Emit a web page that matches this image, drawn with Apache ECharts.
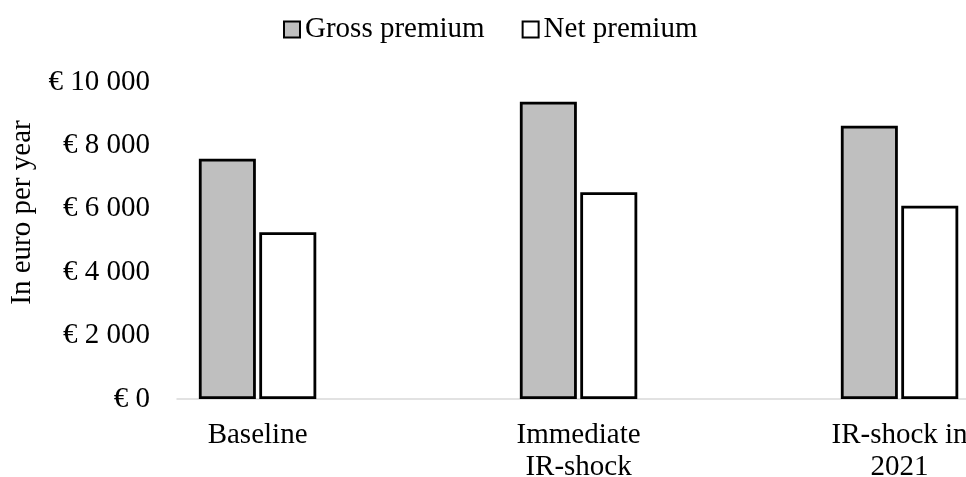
<!DOCTYPE html>
<html>
<head>
<meta charset="utf-8">
<script src="https://cdn.jsdelivr.net/npm/echarts@6/dist/echarts.min.js"></script>
<style>
  html, body { margin: 0; padding: 0; background: #ffffff; }
  #chart { width: 966px; height: 477px; }
</style>
</head>
<body>
<div id="chart"></div>
<script>
// Premium scenarios, in euro per year
const categories = ['Baseline', 'Immediate\nIR-shock', 'IR-shock in\n2021'];
const grossPremium = [7580, 9380, 8620];
const netPremium = [5260, 6520, 6100];
const yTicks = { min: 0, max: 10000, interval: 2000 };

const FONT = '"Liberation Serif", "Times New Roman", serif';
const textBase = { fontFamily: FONT, fontSize: 29, color: '#000000' };

// category slots sit on a numeric x scale; the plot starts part-way into the
// first slot and runs off the right edge past the last one
const SLOT_START = -0.251;
const SLOT_END = 2.207;

function euro(v) {
  return '€ ' + String(v).replace(/\B(?=(\d{3})+(?!\d))/g, ' ');
}

const slotIndex = categories.map((_, i) => i);
const grossData = grossPremium.map((v, i) => [i, v]);
const netData = netPremium.map((v, i) => [i, v]);

const chart = echarts.init(document.getElementById('chart'), null, { renderer: 'canvas' });

chart.setOption({
  backgroundColor: '#ffffff',
  animation: false,
  legend: {
    top: 15,
    left: 283,
    padding: 0,
    itemWidth: 16,
    itemHeight: 16,
    itemGap: 37,
    icon: 'rect',
    textStyle: Object.assign({}, textBase),
    data: ['Gross premium', 'Net premium']
  },
  grid: {
    left: 177, right: 0, top: 82, bottom: 78,
    containLabel: false,
    outerBoundsMode: 'none'
  },
  xAxis: {
    type: 'value',
    min: SLOT_START,
    max: SLOT_END,
    splitLine: { show: false },
    axisLine: { show: true, onZero: false, lineStyle: { color: '#d9d9d9', width: 1.5 } },
    axisTick: { show: false },
    axisLabel: Object.assign({
      margin: 20,
      lineHeight: 32,
      customValues: slotIndex,
      formatter: (v) => categories[Math.round(v)]
    }, textBase)
  },
  yAxis: {
    type: 'value',
    min: yTicks.min, max: yTicks.max, interval: yTicks.interval,
    name: 'In euro per year',
    nameLocation: 'middle',
    nameGap: 140,
    nameRotate: 90,
    nameTextStyle: Object.assign({ padding: [0, 0, 0, 56] }, textBase),
    axisLine: { show: false },
    axisTick: { show: false },
    splitLine: { show: false },
    axisLabel: Object.assign({ margin: 27, formatter: euro }, textBase)
  },
  series: [
    {
      name: 'Gross premium',
      type: 'bar',
      data: grossData,
      barWidth: 57,
      barGap: '6%',
      itemStyle: { color: '#bfbfbf', borderColor: '#000000', borderWidth: 2.8 }
    },
    {
      name: 'Net premium',
      type: 'bar',
      data: netData,
      barWidth: 57,
      barGap: '6%',
      itemStyle: { color: '#ffffff', borderColor: '#000000', borderWidth: 2.8 }
    }
  ]
});
</script>
</body>
</html>
